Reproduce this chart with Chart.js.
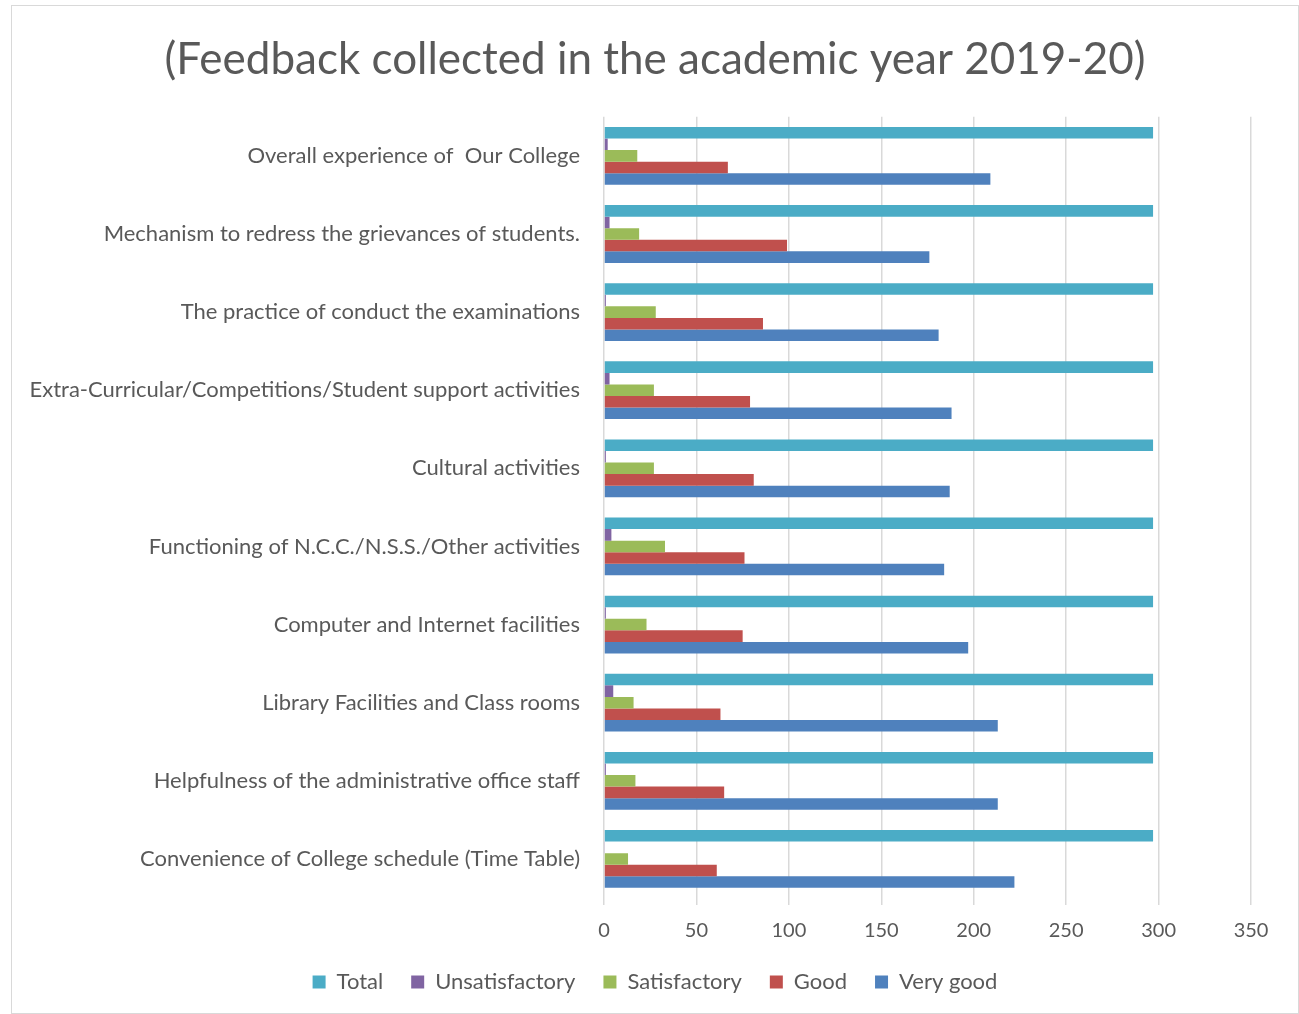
<!DOCTYPE html>
<html>
<head>
<meta charset="utf-8">
<script src="https://cdn.jsdelivr.net/npm/chart.js@4.4.1/dist/chart.umd.min.js"></script>
<style>
  body { margin: 0; background: #fff; }
  #box {
    position: absolute; left: 11px; top: 5px;
    width: 1286px; height: 1007px;
    border: 1px solid #d9d9d9;
  }
</style>
</head>
<body>
<div id="box"><canvas id="feedback-chart" width="1286" height="1007"></canvas></div>
<script>
const categories = [
    'Overall experience of  Our College',
    'Mechanism to redress the grievances of students.',
    'The practice of conduct the examinations',
    'Extra-Curricular/Competitions/Student support activities',
    'Cultural activities',
    'Functioning of N.C.C./N.S.S./Other activities',
    'Computer and Internet facilities',
    'Library Facilities and Class rooms',
    'Helpfulness of the administrative office staff',
    'Convenience of College schedule (Time Table)'
];

const total          = [297, 297, 297, 297, 297, 297, 297, 297, 297, 297];
const unsatisfactory = [2, 3, 1, 3, 1, 4, 1, 5, 1, 0.5];
const satisfactory   = [18, 19, 28, 27, 27, 33, 23, 16, 17, 13];
const good           = [67, 99, 86, 79, 81, 76, 75, 63, 65, 61];
const veryGood       = [209, 176, 181, 188, 187, 184, 197, 213, 213, 222];

const xTicks = [0, 50, 100, 150, 200, 250, 300, 350];

function getColor(series) {
    if (series === 'Total') return '#4bacc6';
    if (series === 'Unsatisfactory') return '#8064a2';
    if (series === 'Satisfactory') return '#9bbb59';
    if (series === 'Good') return '#c0504d';
    if (series === 'Very good') return '#4f81bd';
}

const textColor = '#595959';
const fontFamily = 'Lato, "Open Sans", sans-serif';

const series = [
    ['Total', total],
    ['Unsatisfactory', unsatisfactory],
    ['Satisfactory', satisfactory],
    ['Good', good],
    ['Very good', veryGood]
];

// x labels sit lower than the axis box; let them draw past it
const unclipX = {
    id: 'unclipX',
    beforeDraw(chart) {
        chart.scales.x.bottom = chart.height;
    }
};

new Chart(document.querySelector('#feedback-chart').getContext('2d'), {
    type: 'bar',
    data: {
        labels: categories,
        datasets: series.map(([name, values]) => ({
            label: name,
            data: values,
            backgroundColor: getColor(name),
            borderWidth: 0,
            categoryPercentage: 0.74,
            barPercentage: 1.0
        }))
    },
    plugins: [unclipX],
    options: {
        indexAxis: 'y',
        responsive: false,
        animation: false,
        layout: { padding: { left: 0, right: 0, top: 0, bottom: 10 } },
        plugins: {
            title: {
                display: true,
                text: '(Feedback collected in the academic year 2019-20)',
                color: textColor,
                font: { family: fontFamily, size: 44, weight: 'normal' },
                padding: { top: 27, bottom: 31 }
            },
            legend: {
                position: 'bottom',
                labels: {
                    color: textColor,
                    font: { family: fontFamily, size: 22 },
                    boxWidth: 13,
                    boxHeight: 13,
                    padding: 28
                }
            },
            tooltip: { enabled: false }
        },
        scales: {
            x: {
                min: 0,
                max: 375.4,
                afterBuildTicks: scale => {
                    scale.ticks = xTicks.map(v => ({ value: v }));
                },
                afterFit: scale => { scale.height = 45; },
                grid: {
                    color: '#d9d9d9',
                    lineWidth: 1.5,
                    tickLength: 7,
                    drawTicks: true
                },
                border: { display: false },
                ticks: {
                    color: textColor,
                    font: { family: fontFamily, size: 20 },
                    padding: 14
                }
            },
            y: {
                afterFit: scale => { scale.width = 592; },
                grid: { display: false },
                border: { display: false },
                ticks: {
                    color: textColor,
                    font: { family: fontFamily, size: 22 },
                    padding: 16,
                    autoSkip: false
                }
            }
        }
    }
});
</script>
</body>
</html>
